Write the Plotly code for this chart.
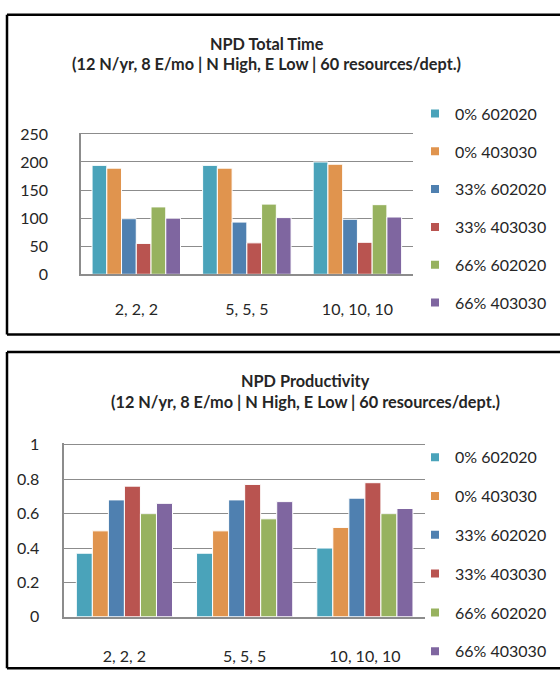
import plotly.graph_objects as go

W, H = 560, 682

# ---- data -------------------------------------------------------------
categories = ["2, 2, 2", "5, 5, 5", "10, 10, 10"]
series_names = ["0% 602020", "0% 403030", "33% 602020",
                "33% 403030", "66% 602020", "66% 403030"]
series_colors = ["#4AA3BA", "#E0944E", "#4F80B0",
                 "#B95450", "#97B25F", "#7F66A0"]

# NPD total time per scenario
time_0_602020 = [194, 194, 200]
time_0_403030 = [189, 189, 196]
time_33_602020 = [99, 93, 98]
time_33_403030 = [55, 56, 57]
time_66_602020 = [120, 125, 124]
time_66_403030 = [100, 101, 102]

# NPD productivity per scenario
prod_0_602020 = [0.37, 0.37, 0.40]
prod_0_403030 = [0.50, 0.50, 0.52]
prod_33_602020 = [0.68, 0.68, 0.69]
prod_33_403030 = [0.76, 0.77, 0.78]
prod_66_602020 = [0.60, 0.57, 0.60]
prod_66_403030 = [0.66, 0.67, 0.63]

time_series = [time_0_602020, time_0_403030, time_33_602020,
               time_33_403030, time_66_602020, time_66_403030]
prod_series = [prod_0_602020, prod_0_403030, prod_33_602020,
               prod_33_403030, prod_66_602020, prod_66_403030]

time_max, time_step = 250, 50
prod_max, prod_step = 1.0, 0.2

FONT = "Lato"
TXT = "#262626"
GRID = "#8C8C8C"


def px(x):
    return x / W


def py(y):
    return 1 - y / H


fig = go.Figure()

for i, (name, color) in enumerate(zip(series_names, series_colors)):
    fig.add_trace(go.Bar(
        x=categories, y=time_series[i], name=name, showlegend=False,
        marker=dict(color=color, line=dict(color="white", width=1)),
        xaxis="x", yaxis="y",
    ))
for i, (name, color) in enumerate(zip(series_names, series_colors)):
    fig.add_trace(go.Bar(
        x=categories, y=prod_series[i], name=name, showlegend=False,
        marker=dict(color=color, line=dict(color="white", width=1)),
        xaxis="x2", yaxis="y2",
    ))

# legend entries: small square keys for each series, one legend per chart
for leg, xa, ya, tag in [("legend", "x", "y", "t"), ("legend2", "x2", "y2", "b")]:
    for i, (name, color) in enumerate(zip(series_names, series_colors)):
        fig.add_trace(go.Scatter(
            x=[None], y=[None], mode="markers", name=name,
            marker=dict(symbol="square", size=8, color=color),
            xaxis=xa, yaxis=ya, legend=leg, legendgroup="%s%d" % (tag, i),
        ))

axis_common = dict(showgrid=False, showline=True, linecolor=GRID,
                   linewidth=1.5, ticks="", zeroline=False,
                   tickfont=dict(family=FONT, size=16, color=TXT))
yaxis_common = dict(showgrid=True, gridcolor=GRID, gridwidth=1,
                    showline=True, linecolor=GRID, linewidth=1.5,
                    ticks="", zeroline=False,
                    tickfont=dict(family=FONT, size=16, color=TXT))

legend_common = dict(
    font=dict(family=FONT, size=16, color=TXT),
    bgcolor="rgba(0,0,0,0)", borderwidth=0,
    xanchor="left", yanchor="top",
    itemclick=False, itemdoubleclick=False,
)

# plot-area pixel boxes: (left, right, y of top gridline, y of baseline)
top_box = (81, 412.7, 128.3, 272.5)
bot_box = (64.3, 425, 447.7, 624.3)
pad = 1.01  # small headroom so the top gridline is kept


def y_domain(box):
    _, _, ytop, ybase = box
    span = (ybase - ytop) * pad
    return [py(ybase), py(ybase - span)]


fig.update_layout(
    width=W, height=H,
    margin=dict(l=0, r=0, t=0, b=0),
    paper_bgcolor="white", plot_bgcolor="white",
    barmode="group", bargap=0.2, bargroupgap=0,
    showlegend=True,
    xaxis=dict(domain=[px(top_box[0]), px(top_box[1])], anchor="y",
               ticklabelstandoff=20, **axis_common),
    yaxis=dict(domain=y_domain(top_box), anchor="x", ticklabelstandoff=28,
               range=[0, time_max * pad], dtick=time_step, **yaxis_common),
    xaxis2=dict(domain=[px(bot_box[0]), px(bot_box[1])], anchor="y2",
                ticklabelstandoff=24, **axis_common),
    yaxis2=dict(domain=y_domain(bot_box), anchor="x2", ticklabelstandoff=20,
                range=[0, prod_max * pad], dtick=prod_step, **yaxis_common),
    legend=dict(x=px(415), y=py(90), tracegroupgap=14, **legend_common),
    legend2=dict(x=px(415), y=py(443), tracegroupgap=15, **legend_common),
)

# chart titles
titles = [
    ("NPD Total Time", 266.7, 35),
    ("(12 N/yr, 8 E/mo | N High, E Low | 60 resources/dept.)", 266.7, 56),
    ("NPD Productivity", 305, 381.7),
    ("(12 N/yr, 8 E/mo | N High, E Low | 60 resources/dept.)", 305, 403.3),
]
for text, cx, cy in titles:
    fig.add_annotation(
        text="<b>%s</b>" % text, x=px(cx), y=py(cy),
        xref="paper", yref="paper", xanchor="center", yanchor="middle",
        showarrow=False, font=dict(family=FONT, size=16.3, color=TXT),
    )

# black frames around each chart (open on the right edge)
for top, bottom in [(6, 334.3), (352.3, 677)]:
    for x0, y0, x1, y1 in [(7, top, 570, top), (7, top, 7, bottom),
                           (7, bottom, 570, bottom)]:
        fig.add_shape(type="line", xref="paper", yref="paper",
                      x0=px(x0), y0=py(y0), x1=px(x1), y1=py(y1),
                      line=dict(color="black", width=2.5))

fig.write_html("out.html")
